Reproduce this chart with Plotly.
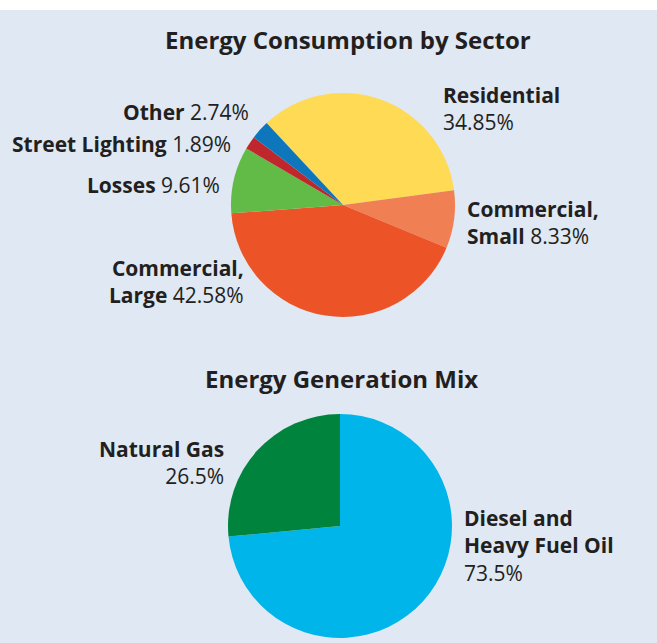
import plotly.graph_objects as go

W, H = 657, 643

# Data
sector_labels = ["Residential", "Commercial, Small", "Commercial, Large", "Losses", "Street Lighting", "Other"]
sector_values = [34.85, 8.33, 42.58, 9.61, 1.89, 2.74]
sector_colors = ["#FFDA55", "#F07F54", "#EC5428", "#62BB46", "#C0272D", "#0E76BB"]

gen_labels = ["Diesel and Heavy Fuel Oil", "Natural Gas"]
gen_values = [73.5, 26.5]
gen_colors = ["#00B5EA", "#00843D"]

BG = "#DFE8F3"
TXT = "#231F20"
FONT = "Open Sans"

def px(x):
    return x / W

def py(y):
    return 1 - y / H

fig = go.Figure()

fig.add_trace(go.Pie(
    labels=sector_labels, values=sector_values,
    marker=dict(colors=sector_colors, line=dict(width=0)),
    sort=False, direction="clockwise", rotation=-43,
    textinfo="none", hoverinfo="label+percent", showlegend=False,
    domain=dict(x=[px(231), px(455)], y=[py(317), py(93)]),
))

fig.add_trace(go.Pie(
    labels=gen_labels, values=gen_values,
    marker=dict(colors=gen_colors, line=dict(width=0)),
    sort=False, direction="clockwise", rotation=0,
    textinfo="none", hoverinfo="label+percent", showlegend=False,
    domain=dict(x=[px(228), px(452)], y=[py(638), py(414)]),
))

def fmt(v, nd):
    return f"{v:.{nd}f}%"

annots = []
def ann(text, x, y, anchor, size=21):
    annots.append(dict(text=text, x=px(x), y=py(y), xref="paper", yref="paper",
                       xanchor=anchor, yanchor="middle", showarrow=False,
                       align=anchor, font=dict(family=FONT, size=size, color=TXT)))

# Titles
annots.append(dict(text="<b>Energy Consumption by Sector</b>", x=px(348), y=py(40),
                   xref="paper", yref="paper", xanchor="center", yanchor="middle",
                   showarrow=False, font=dict(family=FONT, size=24, color=TXT)))
annots.append(dict(text="<b>Energy Generation Mix</b>", x=px(341), y=py(378),
                   xref="paper", yref="paper", xanchor="center", yanchor="middle",
                   showarrow=False, font=dict(family=FONT, size=24, color=TXT)))

# Sector labels
ann(f"<b>Residential</b><br>{fmt(sector_values[0], 2)}", 441, 109, "left")
ann(f"<b>Commercial,</b><br><b>Small</b> {fmt(sector_values[1], 2)}", 465, 223, "left")
ann(f"<b>Commercial,</b><br><b>Large</b> {fmt(sector_values[2], 2)}", 246, 281, "right")
ann(f"<b>Losses</b> {fmt(sector_values[3], 2)}", 222, 185, "right")
ann(f"<b>Street Lighting</b> {fmt(sector_values[4], 2)}", 233, 144, "right")
ann(f"<b>Other</b> {fmt(sector_values[5], 2)}", 251, 112, "right")

# Generation labels
ann(f"<b>Natural Gas</b><br>{fmt(gen_values[1], 1)}", 226, 462, "right")
ann(f"<b>Diesel and</b><br><b>Heavy Fuel Oil</b><br>{fmt(gen_values[0], 1)}", 462, 545, "left")

fig.update_layout(
    width=W, height=H,
    margin=dict(l=0, r=0, t=0, b=0),
    paper_bgcolor="white",
    plot_bgcolor="white",
    annotations=annots,
    shapes=[dict(type="rect", xref="paper", yref="paper", x0=0, x1=1, y0=0, y1=py(10),
                 fillcolor=BG, line=dict(width=0), layer="below")],
)

fig.write_html("out.html")
